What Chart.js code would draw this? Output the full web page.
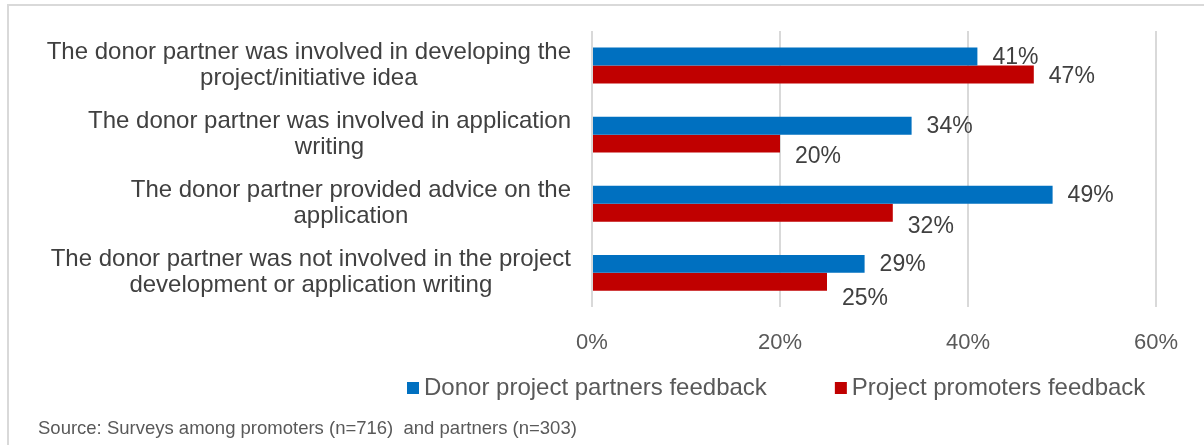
<!DOCTYPE html>
<html>
<head>
<meta charset="utf-8">
<script src="https://cdn.jsdelivr.net/npm/chart.js@4"></script>
<style>
  body { margin: 0; background: #fff; }
  #wrap { position: relative; width: 1204px; height: 445px; overflow: hidden; }
  #frame { position: absolute; left: 7px; top: 4px; width: 1240px; height: 480px; border: 2px solid #d9d9d9; }
  canvas { position: absolute; left: 0; top: 0; }
</style>
</head>
<body>
<div id="wrap">
  <div id="frame"></div>
  <canvas id="chart" width="1204" height="445"></canvas>
</div>
<script>
const categories = [
  ["The donor partner was involved in developing the", "project/initiative idea"],
  ["The donor partner was involved in application", "writing"],
  ["The donor partner provided advice on the", "application"],
  ["The donor partner was not involved in the project", "development or application writing"]
];
const partnersFeedback = [41, 34, 49, 29];
const promotersFeedback = [47, 20, 32, 25];
const xTicks = [0, 20, 40, 60];
const seriesNames = ["Donor project partners feedback", "Project promoters feedback"];
const sourceNote = "Source: Surveys among promoters (n=716)  and partners (n=303)";

const FONT = "'Liberation Sans', Arial, sans-serif";
Chart.defaults.font.family = FONT;

// wrapped category names: each block sits against the axis, its lines centred
const categoryLabels = {
  id: "categoryLabels",
  afterDraw(chart, args, opts) {
    const { ctx } = chart;
    const yScale = chart.scales.y;
    const right = chart.chartArea.left - opts.gap;
    ctx.save();
    ctx.font = opts.font;
    ctx.fillStyle = opts.color;
    ctx.textAlign = "center";
    ctx.textBaseline = "middle";
    chart.data.labels.forEach((lines, i) => {
      const widest = Math.max(...lines.map(l => ctx.measureText(l).width));
      const cx = right - widest / 2;
      const top = yScale.getPixelForValue(i) - (lines.length - 1) * opts.lineHeight / 2;
      lines.forEach((line, j) => ctx.fillText(line, cx, top + j * opts.lineHeight));
    });
    ctx.restore();
  }
};

// percentage next to the end of every bar
const valueLabels = {
  id: "valueLabels",
  afterDatasetsDraw(chart, args, opts) {
    const { ctx } = chart;
    ctx.save();
    ctx.font = opts.font;
    ctx.fillStyle = opts.color;
    ctx.textAlign = "left";
    ctx.textBaseline = "middle";
    chart.data.datasets.forEach((ds, d) => {
      chart.getDatasetMeta(d).data.forEach((bar, i) => {
        ctx.fillText(ds.data[i] + "%", bar.x + opts.offset, bar.y + opts.shift[d][i]);
      });
    });
    ctx.restore();
  }
};

// square swatch + series name, laid out in one row under the axis
const swatchLegend = {
  id: "swatchLegend",
  afterDraw(chart, args, opts) {
    const { ctx } = chart;
    let x = opts.x;
    ctx.save();
    ctx.font = opts.font;
    ctx.textAlign = "left";
    ctx.textBaseline = "middle";
    chart.data.datasets.forEach(ds => {
      ctx.fillStyle = ds.backgroundColor;
      ctx.fillRect(x, opts.y - opts.box / 2, opts.box, opts.box);
      x += opts.box + opts.textGap;
      ctx.fillStyle = opts.color;
      ctx.fillText(ds.label, x, opts.y);
      x += ctx.measureText(ds.label).width + opts.spacing;
    });
    ctx.restore();
  }
};

new Chart(document.getElementById("chart"), {
  type: "bar",
  data: {
    labels: categories,
    datasets: [
      { label: seriesNames[0], data: partnersFeedback, backgroundColor: "#0070C0" },
      { label: seriesNames[1], data: promotersFeedback, backgroundColor: "#C00000" }
    ]
  },
  options: {
    indexAxis: "y",
    responsive: false,
    animation: false,
    datasets: { bar: { categoryPercentage: 0.52, barPercentage: 1 } },
    layout: { padding: { left: 38, right: 48, top: 31, bottom: 0 } },
    scales: {
      x: {
        min: 0,
        max: 60,
        afterBuildTicks: (scale) => { scale.ticks = xTicks.map(v => ({ value: v })); },
        ticks: {
          callback: (v) => v + "%",
          color: "#595959",
          font: { size: 22 },
          padding: 22
        },
        grid: { color: "#d9d9d9", lineWidth: 2, drawTicks: false },
        border: { display: false }
      },
      y: {
        ticks: { display: false },
        grid: { display: false },
        border: { display: false },
        afterFit: (scale) => { scale.width = 554; }
      }
    },
    plugins: {
      legend: { display: false },
      tooltip: { enabled: false },
      subtitle: {
        display: true,
        text: sourceNote,
        position: "bottom",
        align: "start",
        color: "#595959",
        font: { size: 18.5, weight: "normal" },
        padding: { top: 40, bottom: 5 }
      },
      categoryLabels: { font: "24px " + FONT, color: "#404040", gap: 21, lineHeight: 26 },
      valueLabels: {
        font: "23px " + FONT,
        color: "#404040",
        offset: 15,
        shift: [[1, 1, 1, 1], [2, 13, 14, 17]]
      },
      swatchLegend: { font: "24px " + FONT, color: "#595959", x: 407, y: 388, box: 12, textGap: 5, spacing: 68 }
    }
  },
  plugins: [categoryLabels, valueLabels, swatchLegend]
});
</script>
</body>
</html>
